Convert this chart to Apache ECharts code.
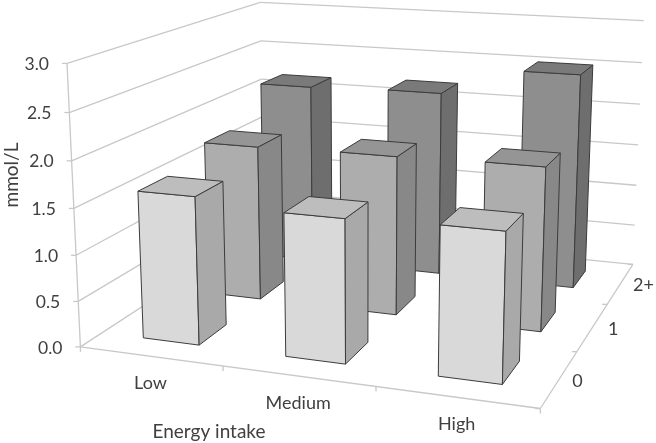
<!DOCTYPE html>
<html><head><meta charset="utf-8">
<style>html,body{margin:0;padding:0;background:#fff}#c{width:656px;height:443px}</style>
<script src="https://cdn.jsdelivr.net/npm/echarts@6/dist/echarts.min.js"></script>
</head><body><div id="c"></div>
<script>
const categories = ['Low', 'Medium', 'High'];
const depthLabels = ['0', '1', '2+'];
const valueTicks = [0, 0.5, 1, 1.5, 2, 2.5, 3];
const row0 = [1.61, 1.53, 1.56];
const row1 = [1.78, 1.8, 1.82];
const row2 = [2.17, 2.2, 2.52];
const rows = [row0, row1, row2];
const xTitle = 'Energy intake';
const yTitle = 'mmol/L';

// camera calibration: cube points (u,w,v) seen on the page
const CAM = [
  [0,0,0,81,347],[1,0,0,538,408],[1,1,0,632,264],
  [0,0,1,67,63],[1,1,1,644,21],[0,1,1,260,2],
  [0,1,0.8333,260,41],[0,1,0.6667,262,79],
  [0,0,0.5,75,208],[1,1,0.5,638,146],
  [0.3333,0,0,222,367],[0.6667,0,0,375,388],
  [1,0.3333,0,580,350],[1,0.6667,0,608,304]
];
function solveCamera(pts){
  const A=[],b=[];
  pts.forEach(([X,Y,Z,x,y])=>{
    A.push([X,Y,Z,1,0,0,0,0,-x*X,-x*Y,-x*Z]);b.push(x);
    A.push([0,0,0,0,X,Y,Z,1,-y*X,-y*Y,-y*Z]);b.push(y);
  });
  const n=11,M=[];
  for(let i=0;i<n;i++){M.push([]);for(let j=0;j<=n;j++){let s=0;
    for(let k=0;k<A.length;k++) s+=A[k][i]*(j<n?A[k][j]:b[k]);
    M[i].push(s);}}
  for(let i=0;i<n;i++){let p=i;for(let r=i+1;r<n;r++) if(Math.abs(M[r][i])>Math.abs(M[p][i])) p=r;
    [M[i],M[p]]=[M[p],M[i]];
    for(let r=0;r<n;r++){if(r===i)continue;const f=M[r][i]/M[i][i];for(let c=i;c<=n;c++)M[r][c]-=f*M[i][c];}}
  return M.map((r,i)=>r[n]/r[i]);
}
const P=solveCamera(CAM);
function proj(u,w,v){
  const d=P[8]*u+P[9]*w+P[10]*v+1;
  return [(P[0]*u+P[1]*w+P[2]*v+P[3])/d,(P[4]*u+P[5]*w+P[6]*v+P[7])/d];
}
const FACE=[
  {front:'#d9d9d9',side:'#a9a9a9',top:'#bdbdbd'},
  {front:'#adadad',side:'#888888',top:'#959595'},
  {front:'#8e8e8e',side:'#6e6e6e',top:'#7a7a7a'}
];
const BAR_U=0.40/3, BAR_W=0.42/3, EDGE='#3c3c3c';
const GRID='#c8c8c8', TEXT='#404040', FONT='Lato';

function norm(params,api,c,val){
  const cs=params.coordSys,p=api.coord([c,val]);
  return [(p[0]-cs.x)/cs.width,(cs.y+cs.height-p[1])/cs.height];
}
function poly(pts,fill){
  return {type:'polygon',shape:{points:pts},style:{fill:fill,stroke:EDGE,lineWidth:1,lineJoin:'round'}};
}
function renderBar(params,api){
  const c=api.value(0),val=api.value(1),r=api.value(2);
  const [uc,v]=norm(params,api,c,val);
  const wc=(r+0.5)/3;
  const u0=uc-BAR_U/2,u1=uc+BAR_U/2,w0=wc-BAR_W/2,w1=wc+BAR_W/2;
  const f=FACE[r];
  return {type:'group',children:[
    poly([proj(u0,w0,0),proj(u1,w0,0),proj(u1,w0,v),proj(u0,w0,v)],f.front),
    poly([proj(u1,w0,0),proj(u1,w1,0),proj(u1,w1,v),proj(u1,w0,v)],f.side),
    poly([proj(u0,w0,v),proj(u1,w0,v),proj(u1,w1,v),proj(u0,w1,v)],f.top)
  ]};
}
function seg(a,b){
  return {type:'line',shape:{x1:a[0],y1:a[1],x2:b[0],y2:b[1]},style:{stroke:GRID,lineWidth:1.3}};
}
function txt(s,x,y,size,opt){
  return {type:'text',x:x,y:y,rotation:(opt&&opt.rotation)||0,style:{text:s,fill:TEXT,font:size+'px '+FONT,
    align:(opt&&opt.align)||'center',verticalAlign:'middle'}};
}
function renderFrame(params,api){
  const kids=[];
  valueTicks.forEach(t=>{
    const v=norm(params,api,0,t)[1];
    const a=proj(0,0,v),b=proj(0,1,v),c=proj(1,1,v);
    kids.push(seg(a,b),seg(b,c));
    kids.push(seg(a,[a[0]-5,a[1]]));
    kids.push(txt(t.toFixed(1),a[0]-18,a[1]+1,17.5,{align:'right'}));
  });
  kids.push(seg(proj(0,0,0),proj(0,0,1)));
  kids.push(seg(proj(0,0,0),proj(1,0,0)));
  kids.push(seg(proj(1,0,0),proj(1,1,0)));
  for(let i=0;i<=3;i++){
    const a=proj(i/3,0,0);kids.push(seg(a,[a[0],a[1]+5]));
    const b=proj(1,i/3,0);kids.push(seg(b,[b[0]-5,b[1]]));
  }
  categories.forEach((s,i)=>{const p=proj((i+0.5)/3,0,0);kids.push(txt(s,p[0],p[1]+27,18));});
  depthLabels.forEach((s,i)=>{const p=proj(1,(i+0.5)/3,0);kids.push(txt(s,p[0]+18+i*2.5,p[1]+2,18));});
  kids.push(txt(xTitle,209,432,19));
  kids.push(txt(yTitle,12,175,19,{rotation:Math.PI/2}));
  return {type:'group',children:kids};
}
const barData=[];
[2,1,0].forEach(r=>categories.forEach((c,i)=>barData.push([i,rows[r][i],r])));

const chart=echarts.init(document.getElementById('c'),null,{renderer:'canvas'});
chart.setOption({
  animation:false,backgroundColor:'#fff',
  grid:{left:0,right:0,top:0,bottom:0},
  xAxis:{type:'category',data:categories,show:false},
  yAxis:{type:'value',min:0,max:3,interval:0.5,show:false},
  series:[
    {type:'custom',name:'frame',silent:true,z:1,renderItem:renderFrame,data:[[0,0,0]],encode:{x:0,y:1}},
    {type:'custom',name:'bars',silent:true,z:2,renderItem:renderBar,data:barData,encode:{x:0,y:1}}
  ]
});
</script></body></html>
